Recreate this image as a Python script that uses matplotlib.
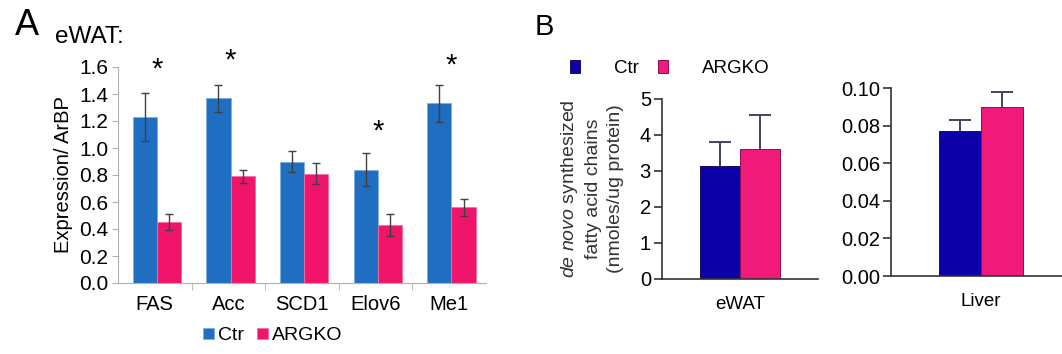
import numpy as np
import matplotlib
matplotlib.use("Agg")
import matplotlib.pyplot as plt

plt.rcParams['font.family'] = ['Liberation Sans', 'DejaVu Sans']
plt.rcParams['mathtext.fontset'] = 'custom'
plt.rcParams['mathtext.it'] = 'Liberation Sans:italic'
plt.rcParams['mathtext.rm'] = 'Liberation Sans'

# panel A: eWAT gene expression
genes = ["FAS", "Acc", "SCD1", "Elov6", "Me1"]
ctr_expr = [1.23, 1.37, 0.90, 0.84, 1.33]
ctr_expr_err = [0.18, 0.10, 0.08, 0.12, 0.14]
ko_expr = [0.45, 0.79, 0.81, 0.43, 0.56]
ko_expr_err = [0.06, 0.05, 0.08, 0.08, 0.06]
star_y = [1.58, 1.65, None, 1.12, 1.61]

# panel B: de novo synthesized fatty acid chains
tissues = ["eWAT", "Liver"]
ctr_dnl = [3.15, 0.077]
ctr_dnl_err = [0.65, 0.006]
ko_dnl = [3.6, 0.090]
ko_dnl_err = [0.95, 0.008]
b_ylims = [(0, 5), (0, 0.10)]
b_yticks = [[0, 1, 2, 3, 4, 5], [0.00, 0.02, 0.04, 0.06, 0.08, 0.10]]
b_ytick_fmt = ["{:.0f}", "{:.2f}"]

blue_a, pink_a = "#1f6ec2", "#f0146a"
blue_b, pink_b = "#0c00a8", "#f01a7a"

W, H = 1062, 354
fig = plt.figure(figsize=(W / 100, H / 100), dpi=100)

def px_axes(left, right, top, bottom):
    return fig.add_axes([left / W, 1 - bottom / H, (right - left) / W, (bottom - top) / H])

# ---- panel A
ax = px_axes(118, 486, 67, 283)
x = np.arange(len(genes))
bw = 0.33
b1 = ax.bar(x - bw / 2 + 0.03, ctr_expr, bw, color=blue_a, edgecolor="#7fb0e0", linewidth=0.6,
            yerr=ctr_expr_err, ecolor="#404040", error_kw=dict(capsize=3, elinewidth=1, capthick=1))
b2 = ax.bar(x + bw / 2 + 0.03, ko_expr, bw, color=pink_a, edgecolor="#f070a0", linewidth=0.6,
            yerr=ko_expr_err, ecolor="#404040", error_kw=dict(capsize=3, elinewidth=1, capthick=1))
for i, sy in enumerate(star_y):
    if sy is not None:
        ax.text(i + 0.03, sy, "*", ha="center", va="center", fontsize=21, clip_on=False)
ax.set_xlim(-0.5, len(genes) - 0.5)
ax.set_ylim(0, 1.6)
ax.set_yticks(np.arange(0, 1.61, 0.2))
ax.set_yticklabels(["{:.1f}".format(v) for v in np.arange(0, 1.61, 0.2)])
ax.set_xticks(x)
ax.set_xticklabels(genes)
ax.set_xticks(np.arange(0.5, len(genes) - 0.5, 1), minor=True)
ax.tick_params(axis="x", which="major", length=0, pad=9, labelsize=14.5)
ax.tick_params(axis="x", which="minor", length=5, color="#b0b0b0")
ax.tick_params(axis="y", length=4, color="#b0b0b0", labelsize=15, pad=3)
for s in ["top", "right"]:
    ax.spines[s].set_visible(False)
for s in ["left", "bottom"]:
    ax.spines[s].set_color("#b0b0b0")
ax.set_ylabel("Expression/ ArBP", fontsize=14.5, labelpad=4)
ax.legend([b1, b2], ["Ctr", "ARGKO"], loc="center", bbox_to_anchor=(0.42, -0.245),
          ncol=2, frameon=False, fontsize=14, handlelength=0.55, handleheight=0.55,
          handletextpad=0.2, columnspacing=0.7)

fig.text(15 / W, 1 - 35 / H, "A", fontsize=26, va="baseline")
fig.text(55 / W, 1 - 43 / H, "eWAT:", fontsize=17.5, va="baseline")

# ---- panel B
boxes = [(662, 818, 99, 279), (891, 1075, 88, 276)]
xlims = [(-0.975, 0.975), (-1.07, 1.12)]
bw = 0.5
for k, name in enumerate(tissues):
    axb = px_axes(*boxes[k])
    c1 = axb.bar(-bw / 2, ctr_dnl[k], bw, color=blue_b, edgecolor="#1a1060", linewidth=0.7,
                 yerr=[[0], [ctr_dnl_err[k]]], ecolor="#4a4060",
                 error_kw=dict(capsize=8, elinewidth=1.4, capthick=1.4))
    c2 = axb.bar(bw / 2, ko_dnl[k], bw, color=pink_b, edgecolor="#8a1050", linewidth=0.7,
                 yerr=[[0], [ko_dnl_err[k]]], ecolor="#4a4060",
                 error_kw=dict(capsize=8, elinewidth=1.4, capthick=1.4))
    # one-sided error bars: hide the lower cap
    for cont in (c1, c2):
        cont.errorbar.lines[1][0].set_visible(False)
    axb.set_xlim(*xlims[k])
    axb.set_ylim(*b_ylims[k])
    axb.set_yticks(b_yticks[k])
    axb.set_yticklabels([b_ytick_fmt[k].format(v) for v in b_yticks[k]])
    axb.set_xticks([0])
    axb.set_xticklabels([name])
    axb.tick_params(axis="x", length=0, pad=12, labelsize=13.5)
    axb.tick_params(axis="y", length=6, width=1.2, color="#333333", labelsize=14.5, pad=2)
    for s in ["top", "right"]:
        axb.spines[s].set_visible(False)
    for s in ["left", "bottom"]:
        axb.spines[s].set_color("#333333")
        axb.spines[s].set_linewidth(1.2)
    if k == 0:
        axb.set_ylabel("$\\it{de\\ novo}$ synthesized\nfatty acid chains\n(nmoles/ug protein)",
                       fontsize=14, linespacing=1.4, labelpad=11, color="#333333")
        axb.legend([c1, c2], ["Ctr", "ARGKO"], loc="center", bbox_to_anchor=(0.05, 1.17),
                   ncol=2, frameon=False, fontsize=13.5, handlelength=0.55, handleheight=0.75,
                   handletextpad=1.8, columnspacing=1.0)

fig.text(535 / W, 1 - 35 / H, "B", fontsize=21, va="baseline")

fig.savefig("out.png", dpi=100, facecolor="white")
